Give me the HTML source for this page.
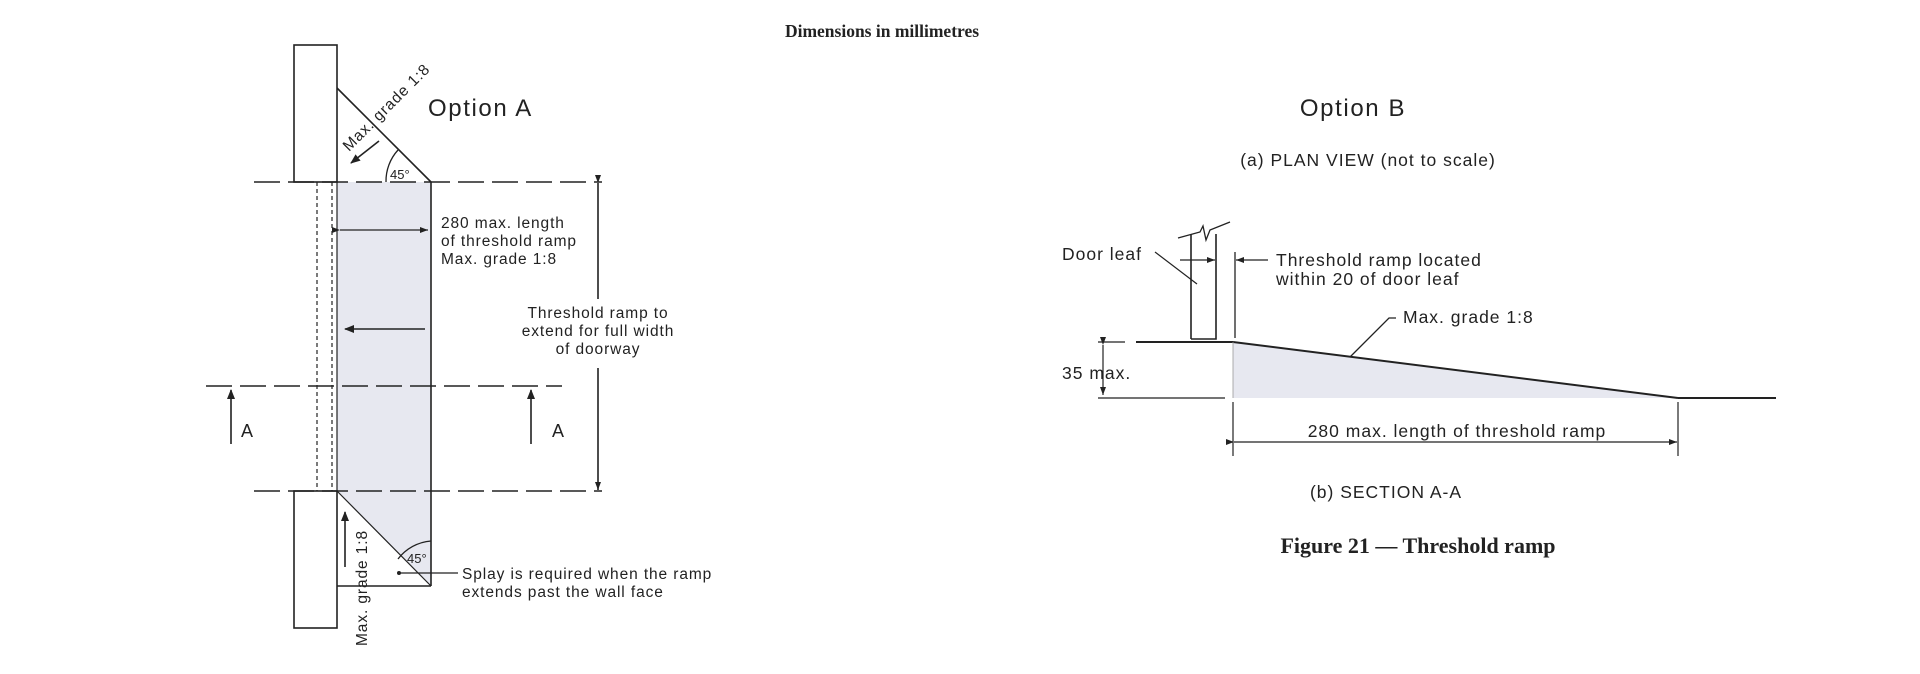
<!DOCTYPE html>
<html><head><meta charset="utf-8"><style>
html,body{margin:0;padding:0;background:#fff;}
svg{display:block;}
text{font-family:"Liberation Sans",sans-serif;fill:#222;}
.a{font-size:15.5px;letter-spacing:0.9px;}
.b{font-size:17.5px;letter-spacing:1px;}
</style></head><body>
<svg width="1920" height="674" viewBox="0 0 1920 674" xmlns="http://www.w3.org/2000/svg">
<defs>
<marker id="ah" markerWidth="10" markerHeight="8" refX="9" refY="4" orient="auto" markerUnits="userSpaceOnUse"><path d="M0,0 L10,4 L0,8 Z" fill="#222"/></marker>
<marker id="as" markerWidth="8" markerHeight="6" refX="8" refY="3" orient="auto" markerUnits="userSpaceOnUse"><path d="M0,0 L8,3 L0,6 Z" fill="#222"/></marker>
</defs>
<text x="882" y="37" text-anchor="middle" style="font-family:'Liberation Serif',serif;font-size:17.5px;font-weight:bold">Dimensions in millimetres</text>

<!-- Option A -->
<g stroke="#222" fill="none" stroke-width="1.6">
<polygon points="337,182 431,182 431,491 337,491" fill="#e7e8f0" stroke="none"/>
<polygon points="337,491 431,586 431,491" fill="#e7e8f0" stroke="none"/>
<rect x="294" y="45" width="43" height="137" fill="#fff"/>
<rect x="294" y="491" width="43" height="137" fill="#fff"/>
<line x1="337" y1="88" x2="431" y2="182"/>
<line x1="431" y1="182" x2="431" y2="586"/>
<line x1="337" y1="491" x2="431" y2="586" stroke-width="1.2"/>
<line x1="337" y1="586" x2="431" y2="586"/>
<line x1="337" y1="182" x2="337" y2="491" stroke-width="1.2"/>
<g stroke-dasharray="26,8" stroke-width="1.4">
<line x1="254" y1="182" x2="602" y2="182"/>
<line x1="254" y1="491" x2="602" y2="491"/>
<line x1="206" y1="386" x2="562" y2="386"/>
</g>
<g stroke-dasharray="4,3" stroke-width="1.2">
<line x1="317" y1="182" x2="317" y2="491"/>
<line x1="332" y1="182" x2="332" y2="491"/>
</g>
<line x1="598" y1="183" x2="598" y2="299" marker-start="url(#as)"/>
<line x1="598" y1="368" x2="598" y2="490" marker-end="url(#as)"/>
<line x1="340" y1="230" x2="428" y2="230" marker-start="url(#as)" marker-end="url(#as)" stroke-width="1.3"/>
<line x1="425" y1="329" x2="345" y2="329" marker-end="url(#ah)"/>
<line x1="231" y1="444" x2="231" y2="390" marker-end="url(#ah)"/>
<line x1="531" y1="444" x2="531" y2="390" marker-end="url(#ah)"/>
<line x1="379" y1="141" x2="351" y2="163" marker-end="url(#ah)"/>
<line x1="345" y1="567" x2="345" y2="512" marker-end="url(#ah)"/>
<path d="M386,182 A46,46 0 0 1 398,150" stroke-width="1.3"/>
<path d="M398,559 A46,46 0 0 1 431,541" stroke-width="1.3"/>
<line x1="399" y1="573" x2="458" y2="573" stroke-width="1.2"/>
</g>
<circle cx="399" cy="573" r="2" fill="#222"/>
<text x="428" y="116" style="font-size:24px;letter-spacing:1.6px">Option A</text>
<text x="390" y="179" style="font-size:13px">45°</text>
<text x="407" y="563" style="font-size:13px">45°</text>
<text transform="translate(349,152) rotate(-45)" class="a">Max. grade 1:8</text>
<text transform="translate(367,646) rotate(-90)" class="a">Max. grade 1:8</text>
<g class="a">
<text x="441" y="228">280 max. length</text>
<text x="441" y="246">of threshold ramp</text>
<text x="441" y="264">Max. grade 1:8</text>
<text x="598" y="318" text-anchor="middle">Threshold ramp to</text>
<text x="598" y="336" text-anchor="middle">extend for full width</text>
<text x="598" y="354" text-anchor="middle">of doorway</text>
<text x="462" y="579">Splay is required when the ramp</text>
<text x="462" y="597">extends past the wall face</text>
</g>
<text x="241" y="437" style="font-size:18px">A</text>
<text x="552" y="437" style="font-size:18px">A</text>

<!-- Option B -->
<text x="1353" y="116" text-anchor="middle" style="font-size:24px;letter-spacing:1.6px">Option B</text>
<text x="1368" y="166" text-anchor="middle" class="b">(a) PLAN VIEW (not to scale)</text>
<polygon points="1233,342 1678,398 1233,398" fill="#e7e8f0"/>
<g stroke="#222" fill="none" stroke-width="1.6">
<path d="M1191,339 L1191,234 M1216,234 L1216,339 L1191,339"/>
<path d="M1178,238 L1200,232 L1203,226 L1206,240 L1210,230 L1230,222" stroke-width="1.3"/>
<line x1="1235" y1="252" x2="1235" y2="338" stroke-width="1.3"/>
<line x1="1180" y1="260" x2="1215" y2="260" marker-end="url(#as)" stroke-width="1.2"/>
<line x1="1268" y1="260" x2="1236" y2="260" marker-end="url(#as)" stroke-width="1.2"/>
<line x1="1155" y1="252" x2="1197" y2="284" stroke-width="1.2"/>
<line x1="1136" y1="342" x2="1233" y2="342" stroke-width="2"/>
<line x1="1233" y1="342" x2="1678" y2="398" stroke-width="2"/>
<line x1="1678" y1="398" x2="1776" y2="398" stroke-width="2"/>
<line x1="1098" y1="398" x2="1225" y2="398" stroke-width="1.3"/>
<line x1="1098" y1="342" x2="1125" y2="342" stroke-width="1.3"/>
<line x1="1103" y1="345" x2="1103" y2="395" marker-start="url(#as)" marker-end="url(#as)" stroke-width="1.2"/>
<line x1="1233" y1="342" x2="1233" y2="398" stroke-width="0.8" stroke="#999"/>
<line x1="1233" y1="402" x2="1233" y2="456" stroke-width="1.2"/>
<line x1="1678" y1="402" x2="1678" y2="456" stroke-width="1.2"/>
<line x1="1234" y1="442" x2="1677" y2="442" marker-start="url(#as)" marker-end="url(#as)" stroke-width="1.3"/>
<path d="M1396,318 L1389,318 L1350,357" stroke-width="1.3"/>
</g>
<g class="b">
<text x="1142" y="260" text-anchor="end">Door leaf</text>
<text x="1276" y="266">Threshold ramp located</text>
<text x="1276" y="285">within 20 of door leaf</text>
<text x="1403" y="323">Max. grade 1:8</text>
<text x="1062" y="379">35 max.</text>
<text x="1457" y="437" text-anchor="middle">280 max. length of threshold ramp</text>
<text x="1386" y="498" text-anchor="middle">(b) SECTION A-A</text>
</g>
<text x="1418" y="553" text-anchor="middle" style="font-family:'Liberation Serif',serif;font-size:22px;font-weight:bold">Figure 21 — Threshold ramp</text>
</svg>
</body></html>
